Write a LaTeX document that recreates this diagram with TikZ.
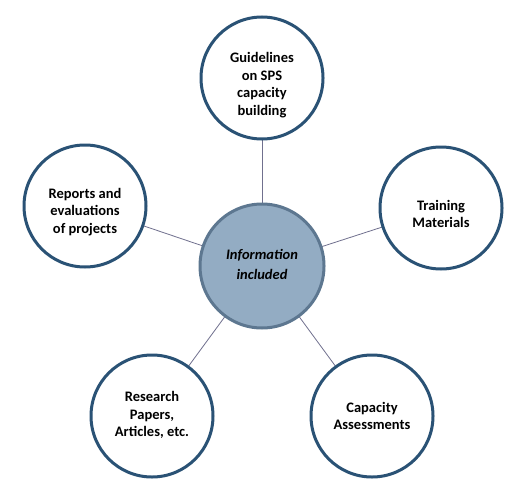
\documentclass[tikz,border=0pt]{standalone}
\usepackage{fontspec}
\setmainfont{Carlito}
\definecolor{ringblue}{HTML}{2A5275}
\definecolor{hubfill}{HTML}{93ACC3}
\definecolor{hubring}{HTML}{5D7790}
\definecolor{spoke}{HTML}{70708E}
\begin{document}
\begin{tikzpicture}[x=1pt,y=-1pt,
  leaf/.style={circle, draw=ringblue, line width=3pt, fill=white, minimum size=122pt, inner sep=0pt},
  hub/.style={circle, draw=hubring, line width=3pt, fill=hubfill, minimum size=124pt, inner sep=0pt},
  leaftext/.style={align=center, font=\fontsize{14.5}{17.7}\selectfont\bfseries},
  hubtext/.style={align=center, font=\fontsize{14.5}{20}\selectfont\bfseries\itshape},
  spokeline/.style={draw=spoke, line width=0.8pt}]
\useasboundingbox[fill=white] (0,0) rectangle (526,500);
\coordinate (pc) at (262,266);
\coordinate (pt) at (262,78);
\coordinate (pl) at (85,206);
\coordinate (pr) at (441,208);
\coordinate (pbl) at (152,416);
\coordinate (pbr) at (372,416);
\draw[spokeline] (pc) -- (pt);
\draw[spokeline] (pc) -- (pl);
\draw[spokeline] (pc) -- (pr);
\draw[spokeline] (pc) -- (pbl);
\draw[spokeline] (pc) -- (pbr);
\node[hub] (c) at (pc) {};
\node[hubtext] (ct) at ([yshift=2pt]pc) {Information\\included};
\node[leaf] (t) at (pt) {};
\node[leaftext] (tt) at ([yshift=-7pt]pt) {Guidelines\\on SPS\\capacity\\building};
\node[leaf] (l) at (pl) {};
\node[leaftext] (lt) at ([yshift=-6pt]pl) {Reports and\\evaluations\\of projects};
\node[leaf] (r) at (pr) {};
\node[leaftext] (rt) at ([yshift=-6pt]pr) {Training\\Materials};
\node[leaf] (bl) at (pbl) {};
\node[leaftext] (blt) at ([yshift=1pt]pbl) {Research\\Papers,\\Articles, etc.};
\node[leaf] (br) at (pbr) {};
\node[leaftext] (brt) at (pbr) {Capacity\\Assessments};
\end{tikzpicture}
\end{document}
